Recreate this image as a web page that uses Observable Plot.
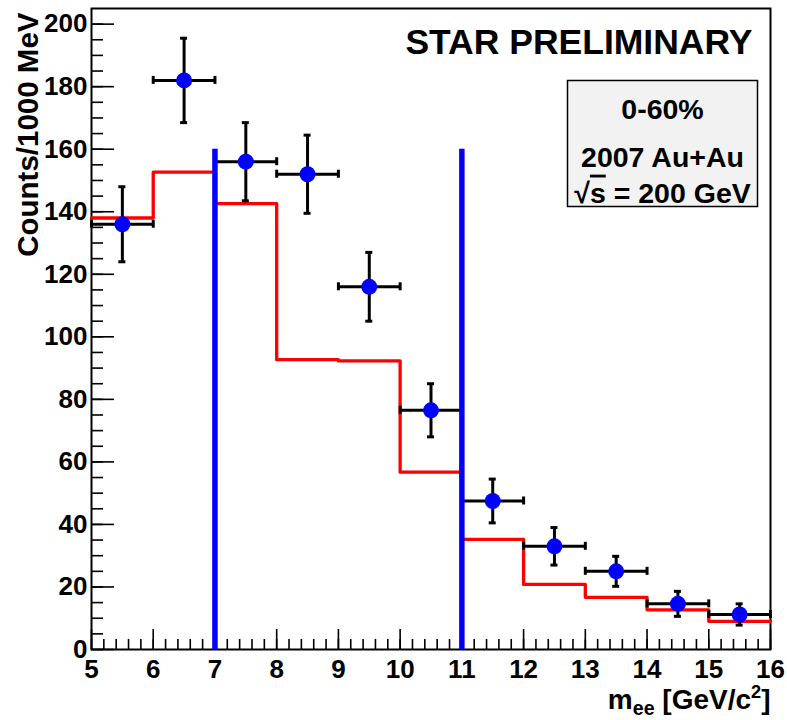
<!DOCTYPE html>
<html>
<head>
<meta charset="utf-8">
<script src="https://cdn.jsdelivr.net/npm/d3@7"></script>
<script src="https://cdn.jsdelivr.net/npm/@observablehq/plot@0.6"></script>
<style>
  html, body { margin: 0; padding: 0; background: #ffffff; }
  #chart svg { display: block; }
</style>
</head>
<body>
<div id="chart"></div>
<script>
// ---- data ----
const massCenters = [5.5, 6.5, 7.5, 8.5, 9.5, 10.5, 11.5, 12.5, 13.5, 14.5, 15.5];
const counts      = [136, 182, 156, 152, 116, 76.5, 47.5, 33, 25, 14.6, 11.2];
const countErrors = [12, 13.5, 12.5, 12.5, 11, 8.5, 7, 6, 4.8, 4, 3.4];
const binHalfWidth = 0.5;

const cocktailEdges = [5, 6, 7, 8, 9, 10, 11, 12, 13, 14, 15, 16];
const cocktail      = [138, 152.7, 142.6, 92.7, 92.3, 56.7, 35.2, 20.8, 16.7, 12.7, 9];

const cutMasses = [7, 11];
const cutHeight = 160;

const xTickLabels = [5, 6, 7, 8, 9, 10, 11, 12, 13, 14, 15, 16];
const yTickLabels = [0, 20, 40, 60, 80, 100, 120, 140, 160, 180, 200];
const xMinorTicks = d3.range(0, 56).map(i => 5 + i * 0.2);
const yMinorTicks = d3.range(0, 41).map(i => i * 5);

const yLabel = "Counts/1000 MeV";
const xLabel = "mee [GeV/c2]";
const starLabel = "STAR PRELIMINARY";
const boxLines = ["0-60%", "2007 Au+Au", "√s = 200 GeV"];

// ---- derived tables ----
const points = massCenters.map((m, i) => ({
  x: m, y: counts[i], lo: counts[i] - countErrors[i], hi: counts[i] + countErrors[i],
  xlo: m - binHalfWidth, xhi: m + binHalfWidth
}));
const histo = cocktailEdges.map((e, i) => ({x: e, y: cocktail[Math.min(i, cocktail.length - 1)]}));

const font = "'Liberation Sans', Arial, Helvetica, sans-serif";

const chart = Plot.plot({
  width: 787,
  height: 720,
  marginLeft: 91,
  marginRight: 17,
  marginTop: 8,
  marginBottom: 71,
  x: {domain: [5, 16]},
  y: {domain: [0, 205]},
  style: {fontFamily: font, fontWeight: "bold", background: "#ffffff", color: "black"},
  marks: [
    // tick marks drawn inside the frame
    Plot.ruleX(xMinorTicks, {x: d => d, y1: 0, y2: 0, insetTop: -10, stroke: "black", strokeWidth: 1.6}),
    Plot.ruleX(xTickLabels, {x: d => d, y1: 0, y2: 0, insetTop: -20, stroke: "black", strokeWidth: 1.6}),
    Plot.ruleY(yMinorTicks, {y: d => d, x1: 5, x2: 5, insetRight: -12, stroke: "black", strokeWidth: 1.6}),
    Plot.ruleY(yTickLabels, {y: d => d, x1: 5, x2: 5, insetRight: -23, stroke: "black", strokeWidth: 1.6}),
    Plot.axisX({ticks: xTickLabels, tickSize: 0, tickPadding: 10, fontSize: 26, tickFormat: d => String(d), label: null}),
    Plot.axisY({ticks: yTickLabels, tickSize: 0, tickPadding: 4, fontSize: 26, tickFormat: d => String(d), label: null}),
    Plot.frame({stroke: "black", strokeWidth: 2}),
    // cocktail histogram
    Plot.line(histo, {x: "x", y: "y", curve: "step-after", stroke: "#ff0000", strokeWidth: 3.3}),
    // error bars
    Plot.ruleX(points, {x: "x", y1: "lo", y2: "hi", stroke: "black", strokeWidth: 3}),
    Plot.ruleY(points, {y: "y", x1: "xlo", x2: "xhi", stroke: "black", strokeWidth: 3}),
    Plot.ruleY(points, {y: "hi", x1: "x", x2: "x", insetLeft: -3.5, insetRight: -3.5, stroke: "black", strokeWidth: 3}),
    Plot.ruleY(points, {y: "lo", x1: "x", x2: "x", insetLeft: -3.5, insetRight: -3.5, stroke: "black", strokeWidth: 3}),
    Plot.ruleX(points, {x: "xlo", y1: "y", y2: "y", insetTop: -4, insetBottom: -4, stroke: "black", strokeWidth: 3}),
    Plot.ruleX(points, {x: "xhi", y1: "y", y2: "y", insetTop: -4, insetBottom: -4, stroke: "black", strokeWidth: 3}),
    Plot.dot(points, {x: "x", y: "y", r: 8, fill: "#0000ff", stroke: "none"}),
    // mass window lines
    Plot.ruleX(cutMasses, {x: d => d, y1: 0, y2: cutHeight, stroke: "#0000ff", strokeWidth: 5.5}),
    // labels
    Plot.text([yLabel], {text: d => d, frameAnchor: "top-left", rotate: -90, textAnchor: "end", lineAnchor: "middle", dx: -63, dy: 4, fontSize: 29.5, fill: "black"}),
    Plot.text([xLabel], {text: d => d, frameAnchor: "bottom-right", textAnchor: "end", lineAnchor: "middle", dx: 0, dy: 51, fontSize: 28, fill: "black"}),
    Plot.text([starLabel], {text: d => d, frameAnchor: "top-right", textAnchor: "end", lineAnchor: "top", dx: -18, dy: 20, fontSize: 35.5, fill: "black"}),
    Plot.frame({fill: "#f2f2f2", stroke: "black", strokeWidth: 1.5, insetLeft: 476, insetRight: 13, insetTop: 72, insetBottom: 443}),
    Plot.text([boxLines[0]], {text: d => d, frameAnchor: "top-right", textAnchor: "middle", lineAnchor: "middle", dx: -108, dy: 101, fontSize: 28.5, fill: "black"}),
    Plot.text([boxLines[1]], {text: d => d, frameAnchor: "top-right", textAnchor: "middle", lineAnchor: "middle", dx: -108, dy: 149, fontSize: 28.5, fill: "black"}),
    Plot.text([boxLines[2]], {text: d => d, frameAnchor: "top-right", textAnchor: "middle", lineAnchor: "middle", dx: -108, dy: 185, fontSize: 28.5, fill: "black"})
  ]
});

document.getElementById("chart").appendChild(chart);

// sub/superscripts and overline
d3.select(chart).selectAll("text").each(function() {
  const t = this.textContent;
  if (t === xLabel) {
    this.textContent = "";
    const sel = d3.select(this);
    sel.append("tspan").text("m");
    sel.append("tspan").attr("dy", 6).attr("font-size", "70%").text("ee");
    sel.append("tspan").attr("dy", -6).text(" [GeV/c");
    sel.append("tspan").attr("dy", -11).attr("font-size", "65%").text("2");
    sel.append("tspan").attr("dy", 11).text("]");
  } else if (t === boxLines[2]) {
    this.textContent = "";
    const sel = d3.select(this);
    sel.append("tspan").text("√");
    sel.append("tspan").style("text-decoration", "overline").text("s");
    sel.append("tspan").text(" = 200 GeV");
  }
});
</script>
</body>
</html>
